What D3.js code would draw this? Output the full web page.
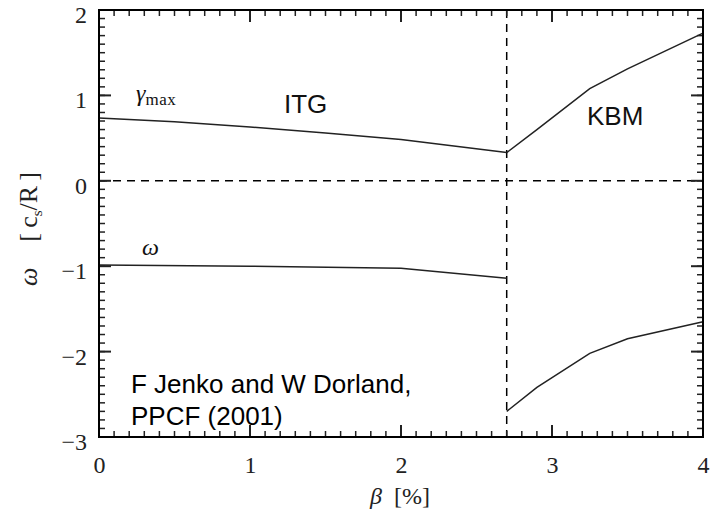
<!DOCTYPE html>
<html><head><meta charset="utf-8">
<script src="https://cdn.jsdelivr.net/npm/d3@7"></script>
<style>body{margin:0;background:#fff}svg{display:block}</style>
</head><body><svg id="c" width="711" height="515"></svg>
<script>
// ---- data ----
const xTicks = [0, 1, 2, 3, 4];
const yTicks = [-3, -2, -1, 0, 1, 2];
const betaTransition = 2.7;
const itgGammaBeta = [0, 0.5, 1, 1.5, 2, 2.7];
const itgGamma     = [0.735, 0.69, 0.63, 0.56, 0.485, 0.33];
const itgOmegaBeta = [0, 1, 2, 2.7];
const itgOmega     = [-0.985, -1.0, -1.025, -1.14];
const kbmBeta      = [2.7, 2.9, 3.25, 3.5, 4];
const kbmGamma     = [0.33, 0.6, 1.08, 1.31, 1.73];
const kbmOmega     = [-2.7, -2.42, -2.02, -1.85, -1.65];

const svg = d3.select("#c");
const L = 99, R = 703, T = 10, B = 437;
const x = d3.scaleLinear().domain([0, 4]).range([L, R]);
const y = d3.scaleLinear().domain([-3, 2]).range([B, T]);
const serif = "'Liberation Serif','DejaVu Serif',serif";
const sans = "'Liberation Sans',Arial,sans-serif";
const tickCol = "#222";

const xMinor = d3.range(0, 41).map(d => d / 10);
const yMinor = d3.range(-30, 21).map(d => d / 10);

// tick labels via axes
const xl = svg.append("g").attr("transform", `translate(0,${B})`)
  .call(d3.axisBottom(x).tickValues(xTicks).tickSize(0).tickPadding(19).tickFormat(d3.format("d")));
xl.select(".domain").remove();
xl.selectAll("text").attr("font-family", serif).attr("font-size", 24).attr("fill", "#222");
const yl = svg.append("g").attr("transform", `translate(${L},0)`)
  .call(d3.axisLeft(y).tickValues(yTicks).tickSize(0).tickPadding(12).tickFormat(d => d < 0 ? "\u2212" + (-d) : String(d)));
yl.select(".domain").remove();
yl.selectAll("text").attr("font-family", serif).attr("font-size", 24).attr("fill", "#222").attr("dy", "0.52em");

// dashed reference lines
svg.append("line").attr("x1", L).attr("x2", R).attr("y1", y(0)).attr("y2", y(0))
  .style("stroke", "#000").style("stroke-width", 1.5).style("stroke-dasharray", "8,6");
svg.append("line").attr("x1", x(betaTransition)).attr("x2", x(betaTransition)).attr("y1", T).attr("y2", B)
  .style("stroke", "#000").style("stroke-width", 1.5).style("stroke-dasharray", "8,6");

// curves
const line = d3.line().x(d => x(d[0])).y(d => y(d[1]));
[d3.zip(itgGammaBeta, itgGamma), d3.zip(itgOmegaBeta, itgOmega),
 d3.zip(kbmBeta, kbmGamma), d3.zip(kbmBeta, kbmOmega)]
  .forEach(s => svg.append("path").attr("d", line(s)).style("fill", "none").style("stroke", "#222").style("stroke-width", 1.5));

// ticks (inward, all sides)
const tg = svg.append("g");
function addTicks(vals, len, w) {
  vals.forEach(v => {
    tg.append("line").attr("x1", x(v)).attr("x2", x(v)).attr("y1", B).attr("y2", B - len).style("stroke", tickCol).style("stroke-width", w);
    tg.append("line").attr("x1", x(v)).attr("x2", x(v)).attr("y1", T).attr("y2", T + len).style("stroke", tickCol).style("stroke-width", w);
  });
}
function addYTicks(vals, len, w) {
  vals.forEach(v => {
    tg.append("line").attr("x1", L).attr("x2", L + len).attr("y1", y(v)).attr("y2", y(v)).style("stroke", tickCol).style("stroke-width", w);
    tg.append("line").attr("x1", R).attr("x2", R - len).attr("y1", y(v)).attr("y2", y(v)).style("stroke", tickCol).style("stroke-width", w);
  });
}
addTicks(xMinor, 6, 1.5);
addTicks(xTicks, 12, 2);
addYTicks(yMinor, 6, 1.5);
addYTicks(yTicks, 12, 2);

// frame
svg.append("path").attr("d", `M${L},${T}H${R}V${B}H${L}Z`)
  .style("fill", "none").style("stroke", "#000").style("stroke-width", 2);

// axis titles
const xt = svg.append("text").attr("x", 400).attr("y", 504).attr("text-anchor", "middle")
  .attr("font-family", serif).attr("font-size", 24).attr("fill", "#222");
xt.append("tspan").attr("font-style", "italic").text("\u03b2");
xt.append("tspan").text("\u2002[%]");

const yt = svg.append("text").attr("transform", "translate(37,229) rotate(-90)").attr("text-anchor", "middle")
  .attr("font-family", serif).attr("font-size", 26).attr("fill", "#222");
yt.append("tspan").attr("font-style", "italic").text("\u03c9");
yt.append("tspan").text("\u2003[\u2009c");
yt.append("tspan").attr("font-size", 15).attr("dy", 5).text("s");
yt.append("tspan").attr("dy", -5).text("/R\u2009]");

// annotations
const gm = svg.append("text").attr("x", 136).attr("y", 101).attr("font-family", serif).attr("font-size", 24).attr("fill", "#111");
gm.append("tspan").attr("font-style", "italic").text("\u03b3");
gm.append("tspan").attr("font-size", 17).attr("dy", 4).attr("letter-spacing", 0.5).text("max");
svg.append("text").attr("x", 142).attr("y", 255).attr("font-family", serif).attr("font-style", "italic").attr("font-size", 24).attr("fill", "#111").text("\u03c9");
svg.append("text").attr("x", 284).attr("y", 113).attr("font-family", sans).attr("font-size", 26).attr("fill", "#111").text("ITG");
svg.append("text").attr("x", 587).attr("y", 125).attr("font-family", sans).attr("font-size", 26).attr("fill", "#111").text("KBM");
svg.append("text").attr("x", 131).attr("y", 393).attr("font-family", sans).attr("font-size", 26).attr("fill", "#000").text("F Jenko and W Dorland,");
svg.append("text").attr("x", 131).attr("y", 425).attr("font-family", sans).attr("font-size", 26).attr("fill", "#000").text("PPCF (2001)");
</script></body></html>
